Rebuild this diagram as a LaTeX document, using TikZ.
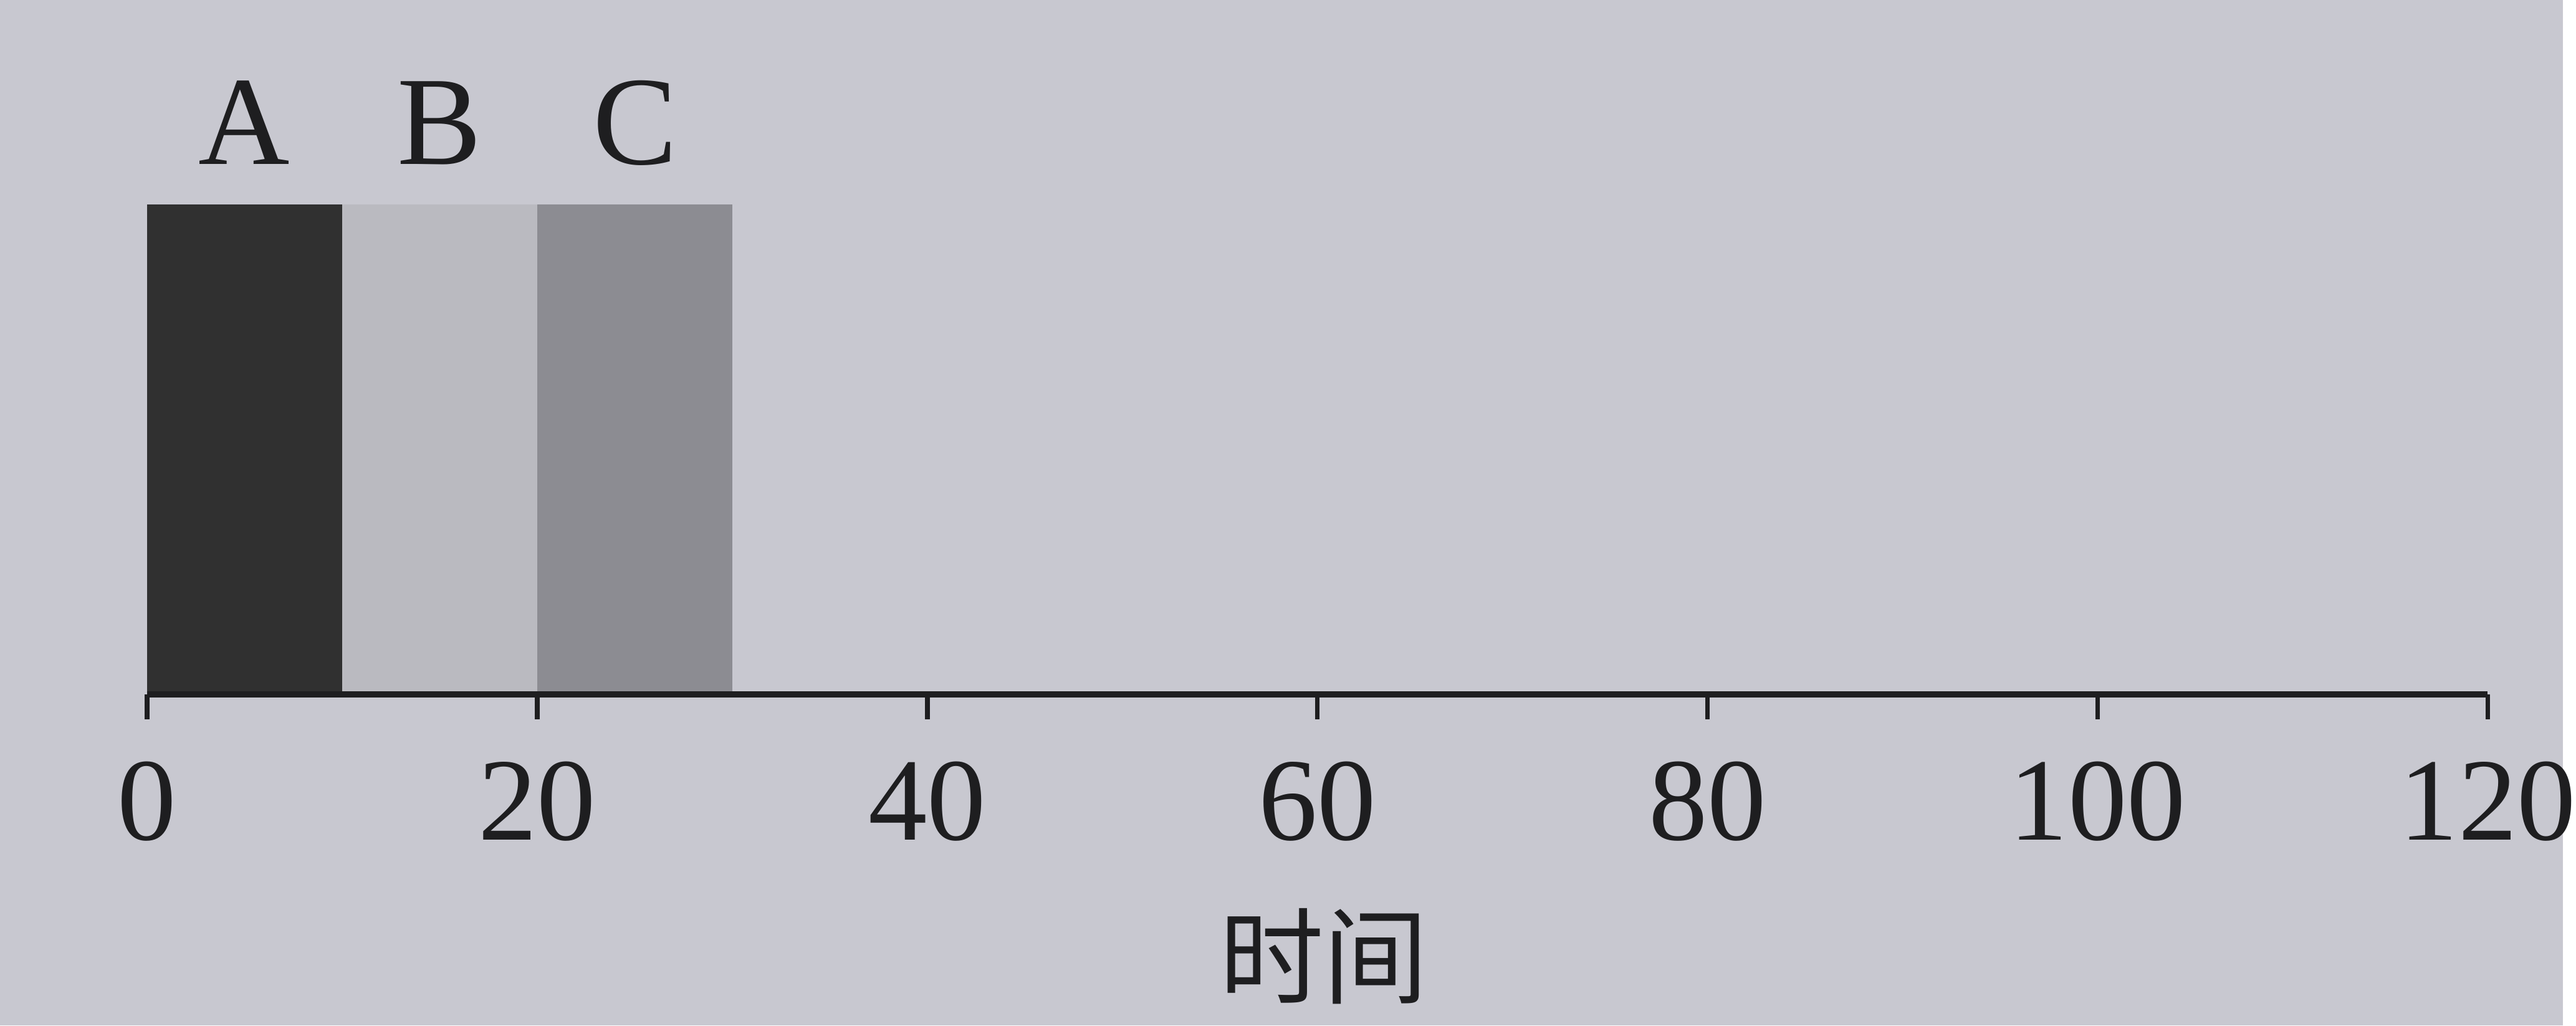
\documentclass[tikz,border=0pt]{standalone}
\usepackage{fontspec}
\setmainfont{Liberation Serif}
\newfontfamily\cjk{Noto Sans CJK SC}
\usetikzlibrary{positioning}
\definecolor{paper}{RGB}{200, 200, 208}
\definecolor{ink}{RGB}{30, 30, 32}
\definecolor{barA}{RGB}{48, 48, 48}
\definecolor{barB}{RGB}{186, 186, 192}
\definecolor{barC}{RGB}{140, 140, 146}
\tikzset{
    lettertext/.style={font=\fontsize{58}{60}\selectfont, text=ink, inner sep=0pt},
    ticktext/.style={font=\fontsize{54}{56}\selectfont, text=ink, inner sep=0pt},
    axisline/.style={ink, line width=2.8pt},
    tickline/.style={ink, line width=2.2pt},
}

\begin{document}
\begin{tikzpicture}[x=1cm, y=1cm]
    % Paper
    \fill[paper] (0,0) rectangle (41.33, 16.54);

    % Bars (10 time units = 3.146 cm)
    \fill[barA] (2.37, 5.34) rectangle (5.516, 13.24);
    \fill[barB] (5.516, 5.34) rectangle (8.662, 13.24);
    \fill[barC] (8.662, 5.34) rectangle (11.808, 13.24);

    % Bar labels
    \node[lettertext] (labA) at (3.94, 14.56) {A};
    \node[lettertext] (labB) at (7.09, 14.56) {B};
    \node[lettertext] (labC) at (10.24, 14.56) {C};

    % Time axis
    \coordinate (axL) at (2.37, 5.34);
    \coordinate (axR) at (40.12, 5.34);
    \draw[axisline] (axL) -- (axR);
    \foreach \t in {0, 20, ..., 120} {
        \coordinate (tk\t) at ({2.37 + \t*0.3146}, 5.34);
        \coordinate (tkb\t) at ({2.37 + \t*0.3146}, 4.94);
        \draw[tickline] (tk\t) -- (tkb\t);
        \node[ticktext] (num\t) at ({2.37 + \t*0.3146}, 3.62) {\t};
    }

    % Axis title
    \node[font=\cjk\fontsize{48}{50}\selectfont, text=ink, inner sep=0pt] (title) at (21.35, 1.12) {时间};
\end{tikzpicture}
\end{document}
